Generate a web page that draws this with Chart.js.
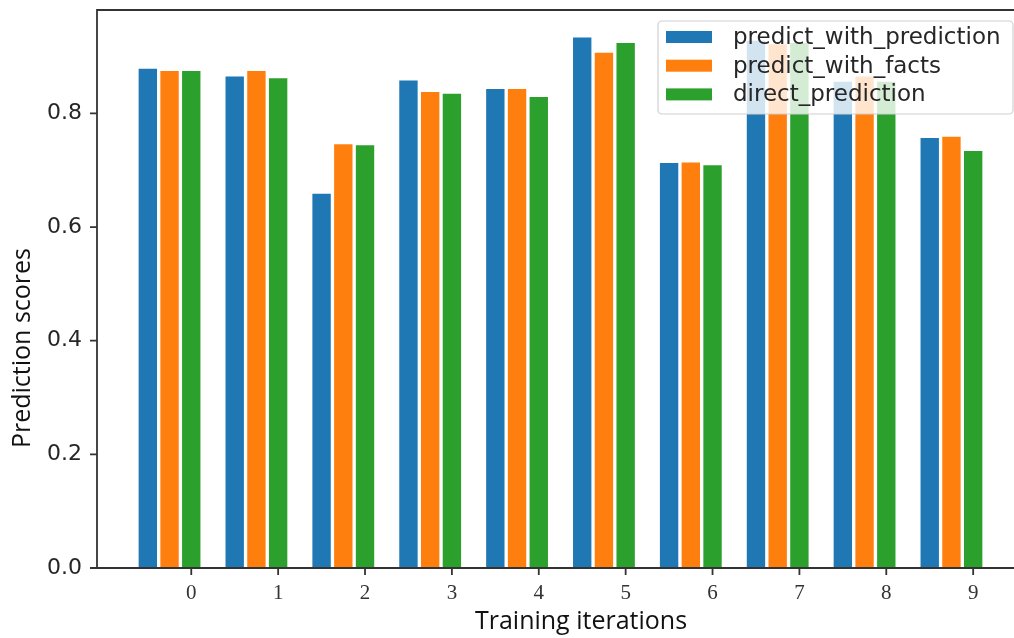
<!DOCTYPE html>
<html>
<head>
<meta charset="utf-8">
<title>Prediction scores by training iteration</title>
<script src="https://cdn.jsdelivr.net/npm/chart.js@4/dist/chart.umd.min.js"></script>
<style>
  html, body { margin: 0; padding: 0; background: #ffffff; }
  #wrap { width: 1014px; height: 638px; }
</style>
</head>
<body>
<div id="wrap"><canvas id="chart" width="1014" height="638"></canvas></div>
<script>
// Training iterations on the x axis
const iterations = [0, 1, 2, 3, 4, 5, 6, 7, 8, 9];

// Scores per method
const predictWithPrediction = [0.880, 0.866, 0.660, 0.859, 0.844, 0.935, 0.714, 0.929, 0.857, 0.758];
const predictWithFacts      = [0.876, 0.876, 0.747, 0.839, 0.844, 0.908, 0.715, 0.923, 0.866, 0.760];
const directPrediction      = [0.876, 0.863, 0.745, 0.836, 0.830, 0.925, 0.710, 0.925, 0.857, 0.735];

const seriesNames = ['predict_with_prediction', 'predict_with_facts', 'direct_prediction'];
const yTickValues = [0.0, 0.2, 0.4, 0.6, 0.8];
const xTitle = 'Training iterations';
const yTitle = 'Prediction scores';

const seriesColors = ['#1f77b4', '#ff7f0e', '#2ca02c'];
// each series sits a quarter step left of the next one; the last one sits on the tick
const barShift = [-0.5, -0.25, 0];
const TICK_LEN = 7;

function buildDataset(name, values, k) {
  return {
    label: name,
    data: values.map((v, i) => ({ x: iterations[i] + barShift[k], y: v })),
    backgroundColor: seriesColors[k],
    borderColor: '#ffffff',
    borderWidth: { left: 2, right: 2, top: 1, bottom: 0 },
    borderSkipped: false,
    grouped: false,
    barPercentage: 1,
    categoryPercentage: 1
  };
}

// Axes frame (left, bottom, top) and outward tick marks at every scale tick
const frame = {
  id: 'frame',
  afterDraw(chart) {
    const { ctx, chartArea: a, scales } = chart;
    ctx.save();
    ctx.strokeStyle = '#333333';
    ctx.lineWidth = 1.8;
    ctx.beginPath();
    ctx.moveTo(a.right + 2, a.top);
    ctx.lineTo(a.left, a.top);
    ctx.lineTo(a.left, a.bottom);
    ctx.lineTo(a.right + 2, a.bottom);
    ctx.stroke();

    ctx.lineWidth = 1.8;
    ctx.beginPath();
    for (const t of scales.x.ticks) {
      const px = scales.x.getPixelForValue(t.value);
      ctx.moveTo(px, a.bottom);
      ctx.lineTo(px, a.bottom + TICK_LEN);
    }
    for (const t of scales.y.ticks) {
      const py = scales.y.getPixelForValue(t.value);
      ctx.moveTo(a.left, py);
      ctx.lineTo(a.left - TICK_LEN, py);
    }
    ctx.stroke();
    ctx.restore();
  }
};

// Axis titles; the x title sits right of the plot centre and the y title below it
const axisTitles = {
  id: 'axisTitles',
  afterDraw(chart) {
    const { ctx, chartArea: a } = chart;
    ctx.save();
    ctx.fillStyle = '#111111';
    ctx.font = '25px "Open Sans"';
    ctx.textAlign = 'center';
    ctx.textBaseline = 'middle';
    ctx.fillText(xTitle, a.left + 484, a.bottom + 54);
    ctx.translate(23, a.top + 338);
    ctx.rotate(-Math.PI / 2);
    ctx.fillText(yTitle, 0, 0);
    ctx.restore();
  }
};

// Legend box in the upper right corner of the plot area, on top of the bars
const boxLegend = {
  id: 'boxLegend',
  afterDraw(chart) {
    const { ctx, chartArea: a } = chart;
    const sets = chart.data.datasets;
    const right = a.right - 1, top = a.top + 11;
    const w = 355, h = 93, left = right - w;
    ctx.save();
    ctx.beginPath();
    ctx.roundRect(left, top, w, h, 4);
    ctx.fillStyle = 'rgba(255,255,255,0.8)';
    ctx.fill();
    ctx.strokeStyle = '#d0d0d0';
    ctx.lineWidth = 1.2;
    ctx.stroke();
    ctx.font = '23px "DejaVu Sans"';
    ctx.textBaseline = 'middle';
    ctx.textAlign = 'left';
    sets.forEach((ds, k) => {
      const cy = top + 16 + k * 28.7;
      ctx.fillStyle = ds.backgroundColor;
      ctx.fillRect(left + 8, cy - 6, 46, 12);
      ctx.fillStyle = '#262626';
      ctx.fillText(ds.label, left + 75, cy + 1);
    });
    ctx.restore();
  }
};

new Chart(document.getElementById('chart'), {
  type: 'bar',
  data: {
    datasets: [
      buildDataset(seriesNames[0], predictWithPrediction, 0),
      buildDataset(seriesNames[1], predictWithFacts, 1),
      buildDataset(seriesNames[2], directPrediction, 2)
    ]
  },
  options: {
    responsive: false,
    animation: false,
    devicePixelRatio: 1,
    layout: { padding: { top: 10, right: 0, bottom: 0, left: 0 } },
    plugins: {
      legend: { display: false },
      tooltip: { enabled: false }
    },
    scales: {
      x: {
        type: 'linear',
        min: -1.085,
        max: 9.47,
        offset: false,
        afterFit(scale) { scale.height = 70; scale.paddingLeft = 0; scale.paddingRight = 0; },
        afterBuildTicks(scale) { scale.ticks = iterations.map(v => ({ value: v })); },
        grid: { display: false, drawTicks: true, tickLength: TICK_LEN },
        border: { display: false },
        ticks: {
          autoSkip: false,
          maxRotation: 0,
          padding: 6,
          color: '#333333',
          font: { family: '"Liberation Serif"', size: 21 },
          callback: (v) => String(v)
        },
        title: { display: false }
      },
      y: {
        type: 'linear',
        min: 0,
        max: 0.982,
        afterFit(scale) { scale.width = 97; scale.paddingTop = 0; scale.paddingBottom = 0; },
        afterBuildTicks(scale) { scale.ticks = yTickValues.map(v => ({ value: v })); },
        grid: { display: false, drawTicks: true, tickLength: TICK_LEN },
        border: { display: false },
        ticks: {
          padding: 8,
          color: '#262626',
          font: { family: '"DejaVu Sans"', size: 22 },
          callback: (v) => Number(v).toFixed(1)
        },
        title: { display: false }
      }
    }
  },
  plugins: [frame, axisTitles, boxLegend]
});
</script>
</body>
</html>
